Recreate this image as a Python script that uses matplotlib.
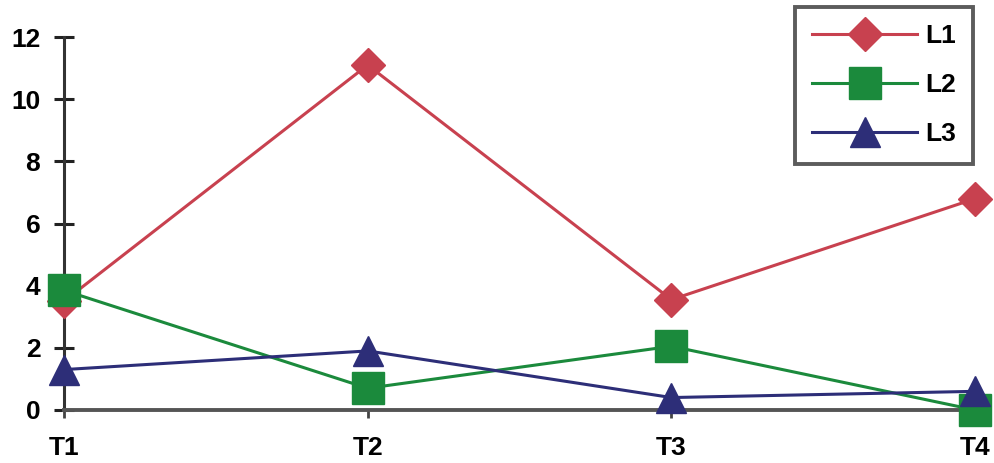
import matplotlib.pyplot as plt

plt.rcParams['font.family'] = ['Liberation Sans', 'DejaVu Sans']

categories = ["T1", "T2", "T3", "T4"]
l1 = [3.5, 11.1, 3.55, 6.8]
l2 = [3.85, 0.7, 2.05, 0.0]
l3 = [1.3, 1.9, 0.4, 0.6]
y_ticks = [0, 2, 4, 6, 8, 10, 12]

fig = plt.figure(figsize=(9.95, 4.63), dpi=100)
ax = fig.add_axes([0.0643, 0.1145, 0.9157, 0.8055])

x = range(len(categories))
ax.plot(x, l1, color="#c8414f", lw=2.2, marker="D", markersize=17,
        markeredgecolor="#c8414f", label="L1", clip_on=False, zorder=3)
ax.plot(x, l2, color="#1b8a3c", lw=2.2, marker="s", markersize=23,
        markeredgecolor="#1b8a3c", label="L2", clip_on=False, zorder=4)
ax.plot(x, l3, color="#2d2e78", lw=2.2, marker="^", markersize=21,
        markeredgecolor="#2d2e78", label="L3", clip_on=False, zorder=5)

ax.set_xlim(0, 3)
ax.set_ylim(0, 12)
ax.set_xticks(list(x))
ax.set_xticklabels(categories)
ax.set_yticks(y_ticks)

for s in ["top", "right"]:
    ax.spines[s].set_visible(False)
ax.spines["left"].set_color("#333333")
ax.spines["left"].set_linewidth(2.2)
ax.spines["bottom"].set_color("#555555")
ax.spines["bottom"].set_linewidth(2.8)

ax.tick_params(axis="y", direction="inout", length=14, width=2.2, color="#222222",
               labelsize=19, pad=10)
ax.tick_params(axis="x", direction="out", length=6, width=2, color="#444444",
               labelsize=19, pad=13)
for lab in ax.get_xticklabels() + ax.get_yticklabels():
    lab.set_fontweight("bold")

leg = ax.legend(loc="upper right", bbox_to_anchor=(0.998, 1.08), fontsize=19,
                frameon=True, fancybox=False, handlelength=4.0, handletextpad=0.3,
                labelspacing=0.95, borderpad=0.65, borderaxespad=0.0)
leg.get_frame().set_edgecolor("#333333")
leg.get_frame().set_linewidth(2.8)
for t in leg.get_texts():
    t.set_fontweight("bold")

fig.savefig("out.png", dpi=100)
